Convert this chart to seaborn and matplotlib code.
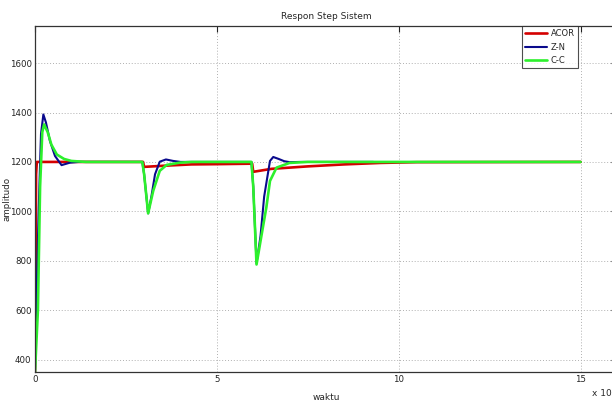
import numpy as np
import pandas as pd
import matplotlib
matplotlib.use("Agg")
import matplotlib.pyplot as plt
import seaborn as sns

# values (time in units of x10^4)
acor_t = [0, 0.03, 0.05, 2.97, 3.0, 3.6, 4.3, 5.0, 5.97, 6.0, 6.5, 7.5, 8.5, 9.5, 10.5, 15]
acor_y = [350, 1150, 1200, 1200, 1180, 1185, 1190, 1191, 1193, 1160, 1172, 1182, 1190, 1196, 1199, 1200]

zn_t = [0, 0.05, 0.1, 0.165, 0.23, 0.3, 0.41, 0.55, 0.73, 0.96, 1.2,
        2.95, 3.0, 3.11, 3.2, 3.3, 3.43, 3.6, 3.8, 4.0,
        5.95, 6.0, 6.09, 6.2, 6.3, 6.46, 6.55, 6.7, 6.85, 7.0, 7.3, 9.3]
zn_y = [350, 700, 1000, 1313, 1392, 1360, 1285, 1224, 1187, 1197, 1200,
        1200, 1150, 992, 1060, 1150, 1201, 1210, 1204, 1200,
        1200, 1100, 790, 900, 1060, 1204, 1220, 1212, 1203, 1199, 1200, 1200]

cc_t = [0, 0.08, 0.14, 0.2, 0.25, 0.35, 0.45, 0.6, 0.8, 1.0, 1.4,
        2.95, 3.0, 3.11, 3.25, 3.43, 3.62, 3.98, 4.3,
        5.95, 6.0, 6.09, 6.2, 6.36, 6.46, 6.64, 7.0, 7.5, 15]
cc_y = [350, 600, 1100, 1320, 1352, 1320, 1270, 1230, 1212, 1204, 1200,
        1200, 1150, 992, 1083, 1164, 1188, 1197, 1200,
        1200, 1100, 785, 880, 1016, 1123, 1177, 1196, 1200, 1200]

series = [("ACOR", acor_t, acor_y, "#d40000", 1.9),
          ("Z-N", zn_t, zn_y, "#0a0a8c", 1.5),
          ("C-C", cc_t, cc_y, "#2cf02c", 1.9)]

sns.set_style("white")
plt.rcParams['font.family'] = ['Liberation Sans Narrow', 'DejaVu Sans Condensed', 'DejaVu Sans']

fig = plt.figure(figsize=(6.12, 4.01), dpi=100)
ax = fig.add_axes([35 / 612, 29 / 401, 582 / 612, 346 / 401])

for name, t, y, color, lw in series:
    df = pd.DataFrame({"t": t, "y": y})
    sns.lineplot(data=df, x="t", y="y", ax=ax, color=color, linewidth=lw,
                 label=name, sort=False, estimator=None)

ax.set_xlim(0, 16)
ax.set_ylim(350, 1750)
ax.set_xticks([0, 5, 10, 15])
ax.set_yticks([400, 600, 800, 1000, 1200, 1400, 1600])
ax.tick_params(direction="in", labelsize=6.2, length=4, top=True, right=True,
               colors="#222222", pad=2.5)
ax.grid(True, linestyle=(0, (1, 2)), color="#b0b0b0", linewidth=0.7)
for s in ax.spines.values():
    s.set_color("#333333")
    s.set_linewidth(0.9)

ax.set_title("Respon Step Sistem", fontsize=6.5, pad=5)
ax.set_xlabel("waktu", fontsize=6.5, labelpad=6)
ax.set_ylabel("amplitudo", fontsize=6.3)
ax.yaxis.set_label_coords(-23.5 / 582, 0.5)
fig.text(592 / 612, 0.008, "x 10", fontsize=6.5, ha="left", va="bottom")

leg = ax.legend(loc="upper right", bbox_to_anchor=(578 / 612, 1 - 26 / 401),
                bbox_transform=fig.transFigure, borderaxespad=0, fontsize=6,
                frameon=True, fancybox=False, handlelength=2.6,
                borderpad=0.4, labelspacing=0.5, handletextpad=0.5)
leg.get_frame().set_edgecolor("#222222")
leg.get_frame().set_linewidth(0.8)

fig.savefig("out.png", dpi=100)
